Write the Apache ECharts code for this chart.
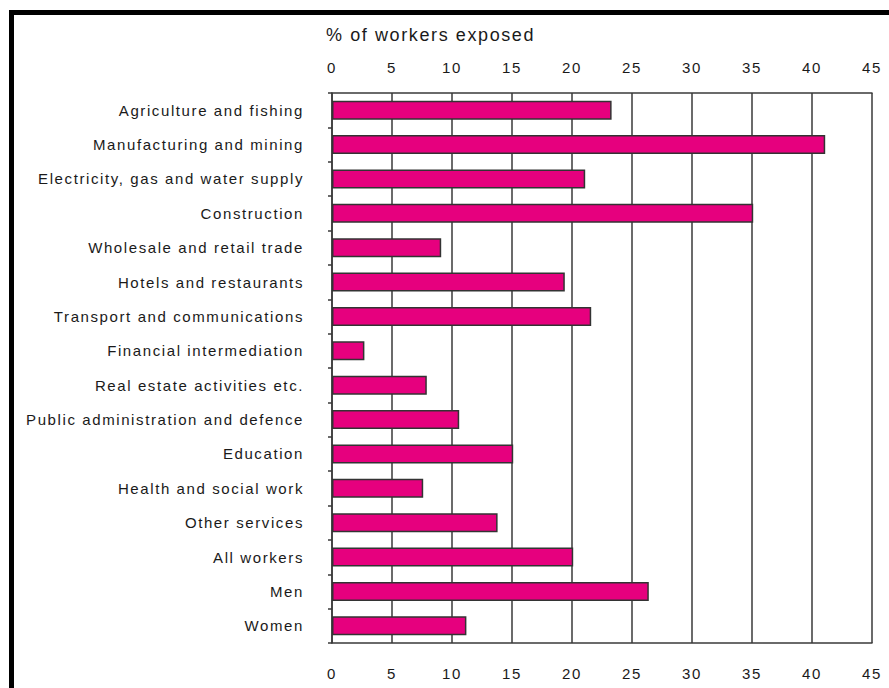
<!DOCTYPE html>
<html>
<head>
<meta charset="utf-8">
<script src="https://cdn.jsdelivr.net/npm/echarts@6/dist/echarts.min.js"></script>
<style>
html,body{margin:0;padding:0;background:#fff;}
#frame{position:absolute;left:9px;top:10px;width:880px;height:678px;border-left:5px solid #000;border-top:5px solid #000;box-sizing:border-box;}
#chart{position:absolute;left:0;top:0;width:889px;height:688px;}
#chart svg text{letter-spacing:1.6px;}
</style>
</head>
<body>
<div id="frame"></div>
<div id="chart"></div>
<script>
const categories = [
  "Agriculture and fishing",
  "Manufacturing and mining",
  "Electricity, gas and water supply",
  "Construction",
  "Wholesale and retail trade",
  "Hotels and restaurants",
  "Transport and communications",
  "Financial intermediation",
  "Real estate activities etc.",
  "Public administration and defence",
  "Education",
  "Health and social work",
  "Other services",
  "All workers",
  "Men",
  "Women"
];
const exposed = [23.3, 41.1, 21.1, 35.1, 9.1, 19.4, 21.6, 2.7, 7.9, 10.6, 15.1, 7.6, 13.8, 20.1, 26.4, 11.2];
const axisTitle = "% of workers exposed";

const chart = echarts.init(document.getElementById('chart'), null, {renderer: 'svg'});
const fontFam = 'Liberation Sans, Arial, sans-serif';
const labelFont = {color: '#1a1a1a', fontFamily: fontFam, fontSize: 15};
const gridColor = '#3a3a3a';
chart.setOption({
  animation: false,
  backgroundColor: 'transparent',
  grid: {left: 332, right: 17, top: 93, bottom: 45, containLabel: false},
  title: {
    text: axisTitle, left: 321, top: 21,
    textStyle: {color: '#1a1a1a', fontFamily: fontFam, fontSize: 18, fontWeight: 'normal'}
  },
  xAxis: [
    {
      type: 'value', position: 'top', min: 0, max: 45, interval: 5,
      axisLine: {show: true, lineStyle: {color: gridColor, width: 1.5}},
      axisTick: {show: false},
      splitLine: {show: true, lineStyle: {color: gridColor, width: 1.5}},
      axisLabel: Object.assign({margin: 18}, labelFont)
    },
    {
      type: 'value', position: 'bottom', min: 0, max: 45, interval: 5,
      axisLine: {show: true, lineStyle: {color: gridColor, width: 1.5}},
      axisTick: {show: false},
      splitLine: {show: false},
      axisLabel: Object.assign({margin: 23}, labelFont)
    }
  ],
  yAxis: {
    type: 'category', data: categories, inverse: true,
    axisLine: {show: true, lineStyle: {color: gridColor, width: 1.5}},
    axisTick: {show: true, length: 4, lineStyle: {color: gridColor, width: 1.5}},
    axisLabel: Object.assign({margin: 28}, labelFont)
  },
  series: [{
    type: 'bar', data: exposed, xAxisIndex: 0,
    barWidth: 19,
    itemStyle: {color: '#E6007E', borderColor: '#333', borderWidth: 1.5}
  }]
});
</script>
</body>
</html>
